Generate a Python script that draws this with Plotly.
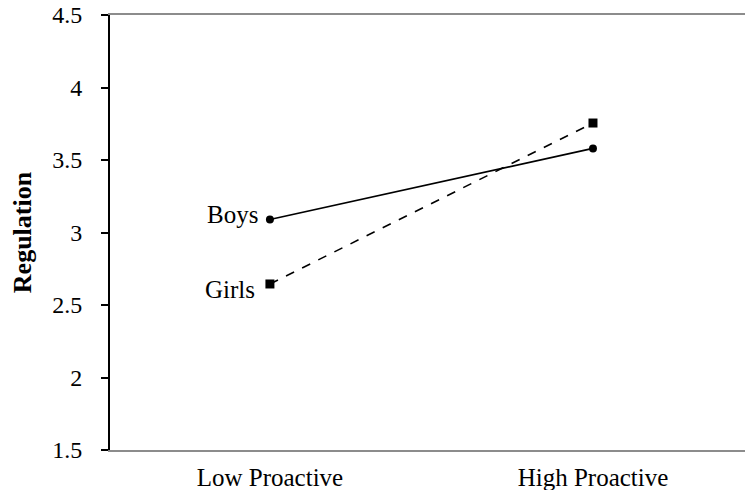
import plotly.graph_objects as go

categories = ["Low Proactive", "High Proactive"]
boys = [3.09, 3.58]
girls = [2.645, 3.755]
y_ticks = [1.5, 2, 2.5, 3, 3.5, 4, 4.5]
y_tick_text = ["1.5", "2", "2.5", "3", "3.5", "4", "4.5"]

fig = go.Figure()
fig.add_trace(go.Scatter(
    x=categories, y=boys, mode="lines+markers", name="Boys",
    line=dict(color="black", width=1.6),
    marker=dict(symbol="circle", size=8, color="black"),
))
fig.add_trace(go.Scatter(
    x=categories, y=girls, mode="lines+markers", name="Girls",
    line=dict(color="black", width=1.6, dash="dash"),
    marker=dict(symbol="square", size=9, color="black"),
))

fig.add_annotation(x=categories[0], y=boys[0], text="Boys", showarrow=False,
                   xanchor="right", xshift=-10, yshift=5,
                   font=dict(family="Liberation Serif", size=25, color="black"))
fig.add_annotation(x=categories[0], y=girls[0], text="Girls", showarrow=False,
                   xanchor="right", xshift=-13, yshift=-6,
                   font=dict(family="Liberation Serif", size=25, color="black"))

fig.update_layout(
    width=760, height=490,
    margin=dict(l=110, r=0, t=15, b=40),
    paper_bgcolor="white", plot_bgcolor="white",
    showlegend=False,
    font=dict(family="Liberation Serif", color="black"),
)
fig.update_xaxes(
    type="category", range=[-0.495, 1.517],
    showgrid=False, zeroline=False,
    showline=True, linecolor="#8c8c8c", linewidth=2, mirror=True,
    ticks="", tickfont=dict(family="Liberation Serif", size=25, color="black"),
    ticklabelstandoff=4,
)
fig.update_yaxes(
    range=[1.5, 4.5], tickvals=y_ticks, ticktext=y_tick_text,
    showgrid=False, zeroline=False,
    showline=True, linecolor="black", linewidth=2,
    ticks="outside", ticklen=7, tickwidth=2, tickcolor="black",
    tickfont=dict(family="Liberation Serif", size=24, color="black"),
    ticklabelstandoff=14,
    title=dict(text="<b>Regulation</b>", font=dict(family="Liberation Serif", size=26, color="black"), standoff=13),
)

fig.write_html("out.html",
               config={"displayModeBar": False},
               post_script="document.body.style.margin='0';document.body.style.overflow='hidden';")
